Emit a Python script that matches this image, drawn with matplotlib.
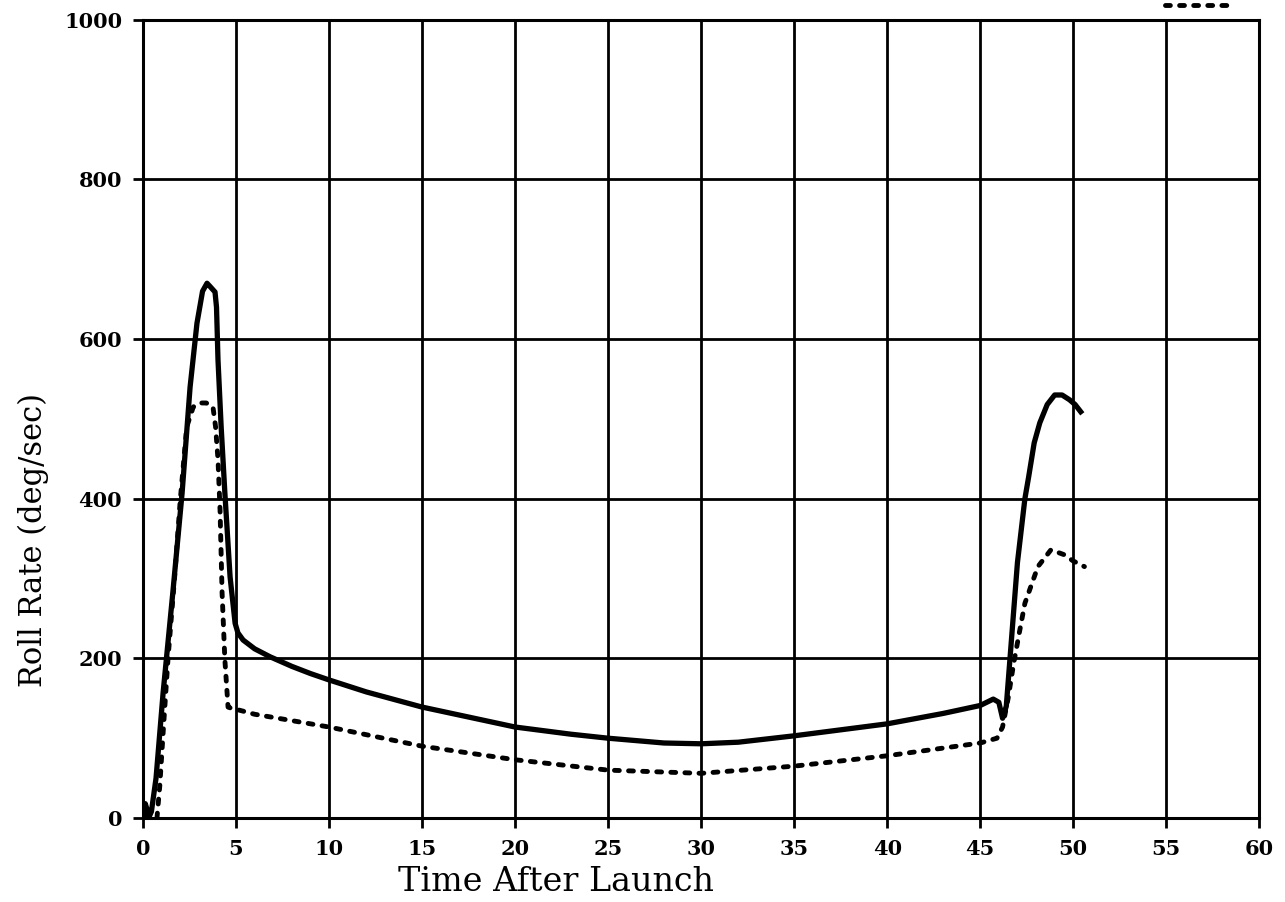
import numpy as np
import matplotlib.pyplot as plt

# measured roll rate (solid)
t_meas = [0.05, 0.12, 0.2, 0.3, 0.45, 0.7, 1.08, 1.6, 2.1, 2.53, 2.9, 3.2, 3.44, 3.6, 3.87,
          3.95, 4.03, 4.2, 4.4, 4.68, 4.95, 5.1, 5.38, 6.0, 6.83, 8.0, 9.0, 10.0, 12.0, 15.0,
          18.0, 20.0, 23.0, 25.0, 28.0, 30.0, 32.0, 35.0, 38.0, 40.0, 43.0, 45.0, 45.7,
          46.0, 46.2, 46.4, 46.6, 47.0, 47.4, 47.6, 47.9, 48.2, 48.6, 49.0, 49.4, 49.8,
          50.1, 50.4]
r_meas = [0, 18, 12, 0, 8, 50, 157, 282, 407, 540, 620, 660, 670, 666, 659,
          640, 574, 490, 407, 302, 244, 232, 223, 212, 202, 190, 181, 173, 158, 139,
          124, 114, 105, 100, 94, 93, 95, 103, 112, 118, 131, 141, 149,
          145, 125, 140, 200, 320, 400, 427, 470, 495, 518, 530, 530, 524,
          518, 509]

# predicted roll rate (dotted)
t_pred = [0.75, 0.9, 1.1, 1.35, 1.7, 2.0, 2.35, 2.7, 3.06, 3.4, 3.76, 3.9, 4.03, 4.14,
          4.25, 4.4, 4.57, 4.8, 5.2, 6.0, 7.26, 10.0, 15.0, 20.0, 25.0, 30.0, 35.0, 40.0,
          45.0, 45.9, 46.2, 46.5, 46.8, 47.1, 47.4, 48.1, 48.8, 49.5, 50.0, 50.6]
r_pred = [0, 40, 114, 202, 302, 398, 490, 515, 520, 520, 515, 490, 449, 386,
          282, 198, 139, 137, 135, 130, 125, 114, 90, 73, 60, 56, 65, 78,
          94, 100, 114, 150, 194, 232, 269, 315, 336, 330, 322, 315]

fig = plt.figure(figsize=(12.85, 9.02), dpi=100)
ax = fig.add_axes([0.1113, 0.0931, 0.8687, 0.8849])

ax.plot(t_meas, r_meas, color='black', lw=3.8, solid_joinstyle='round', zorder=3)
ax.plot(t_pred, r_pred, color='black', lw=3.5, linestyle=(0, (1.0, 1.9)),
        dash_capstyle='round', zorder=3)

ax.set_xlim(0, 60)
ax.set_ylim(0, 1000)
ax.set_xticks(np.arange(0, 61, 5))
ax.set_yticks(np.arange(0, 1001, 200))
ax.grid(True, color='black', lw=2)
for s in ax.spines.values():
    s.set_linewidth(2.2)
ax.tick_params(direction='out', length=7, width=2, pad=8)
for lab in ax.get_xticklabels() + ax.get_yticklabels():
    lab.set_fontfamily('DejaVu Serif')
    lab.set_fontweight('bold')
    lab.set_fontsize(15)

fig.text(556 / 1285, 1 - 882 / 902, 'Time After Launch', fontfamily='DejaVu Serif',
         fontsize=24, ha='center', va='center')
fig.text(33 / 1285, 1 - 540 / 902, 'Roll Rate (deg/sec)', fontfamily='DejaVu Serif',
         fontsize=22, ha='center', va='center', rotation=90)

# legend fragment at top right
fig.add_artist(plt.Line2D([1165 / 1285, 1228 / 1285], [1 - 5 / 902, 1 - 5 / 902],
                          color='black', lw=3.5, linestyle=(0, (1.0, 1.9)),
                          dash_capstyle='round'))

fig.savefig('out.png', dpi=100)
